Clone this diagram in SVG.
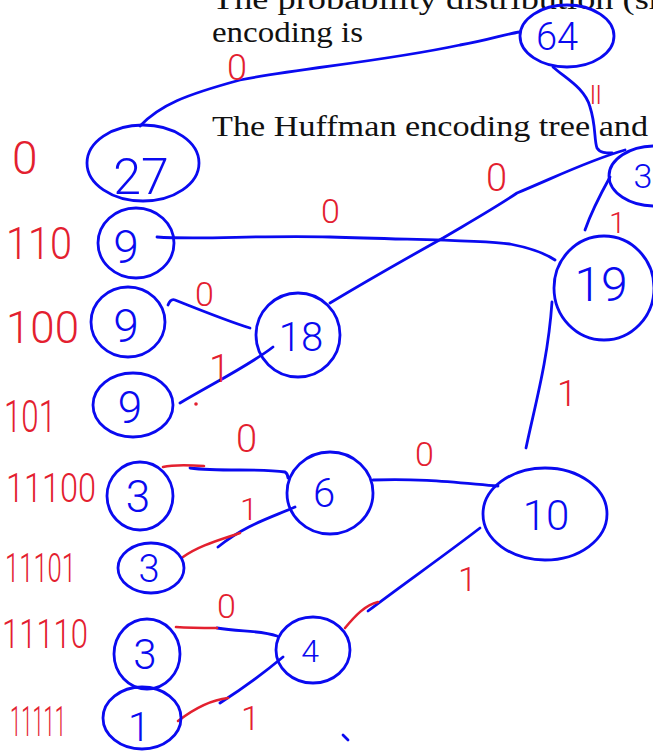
<svg xmlns="http://www.w3.org/2000/svg" width="653" height="754" viewBox="0 0 653 754">
<style>
.bg{font-family:"Liberation Serif","DejaVu Serif",serif;font-size:29px;fill:#111}
.n ellipse{fill:none;stroke:#0a0af0;stroke-width:2.8}
.n text{font-family:Roboto,"DejaVu Sans",sans-serif;font-weight:300;fill:#0a0af0;text-anchor:middle}
.c path{fill:none;stroke:#0a0af0;stroke-width:2.8;stroke-linecap:round;stroke-linejoin:round}
.r path{fill:none;stroke:#e3202f;stroke-width:2.6;stroke-linecap:round}
.code{font-family:Roboto,"DejaVu Sans",sans-serif;font-weight:300;fill:#e3202f}
</style>
<rect width="653" height="754" fill="#fff"/>
<text class="bg" x="212" y="9" textLength="455" lengthAdjust="spacingAndGlyphs">The probability distribution (sh</text>
<text class="bg" x="212" y="42" textLength="151" lengthAdjust="spacingAndGlyphs">encoding is</text>
<text class="bg" x="212" y="136" textLength="436" lengthAdjust="spacingAndGlyphs">The Huffman encoding tree and</text>

<g class="c" id="connectors">
<path d="M140,126 C160,105 185,95 240,80 C300,68 380,62 460,45 C490,40 505,34 520,32"/>
<path d="M553,67 C565,78 585,88 590,107 C596,125 594,140 597,148 C600,153 606,153 612,153"/>
<path d="M157,237 C200,240 260,235 330,237 C420,240 480,240 510,244 C530,248 545,253 555,260"/>
<path d="M330,303 C360,285 400,262 443,238 C470,222 495,208 517,193 C560,175 590,160 625,150"/>
<path d="M585,230 C592,210 600,195 610,177"/>
<path d="M526,448 C535,405 548,360 552,302"/>
<path d="M168,305 C170,300 172,299 175,300 C200,310 230,322 250,328"/>
<path d="M180,403 C210,385 250,365 273,347"/>
<path d="M190,468 C220,472 260,468 285,472 C288,474 288,476 288,478"/>
<path d="M218,547 C245,525 270,518 295,507"/>
<path d="M373,480 C420,478 460,483 498,486"/>
<path d="M217,628 C240,632 260,630 277,636"/>
<path d="M220,703 C245,687 265,672 283,657"/>
<path d="M368,611 C405,583 445,555 480,528"/>
<path d="M343,735 L348,740"/>
</g>

<g class="r" id="red-edges">
<path d="M163,467 C175,464 190,465 204,466"/>
<path d="M183,557 C200,545 220,540 240,533"/>
<path d="M176,627 C190,628 205,628 217,628"/>
<path d="M178,721 C195,708 210,700 228,698"/>
<path d="M345,628 C355,616 365,605 378,602"/>
</g>

<g id="n64" class="n"><ellipse cx="567" cy="36" rx="47" ry="31"/><text x="557" y="50" font-size="38">64</text></g>
<g id="n37" class="n"><ellipse cx="655" cy="176" rx="46" ry="30"/><text x="643" y="188" font-size="34">3</text></g>
<g id="n27" class="n"><ellipse cx="143" cy="163" rx="56" ry="38"/><text x="141" y="194" font-size="50">27</text></g>
<g id="n9a" class="n"><ellipse cx="136" cy="243" rx="38" ry="35"/><text x="126" y="263" font-size="46">9</text></g>
<g id="n9b" class="n"><ellipse cx="128" cy="322" rx="37" ry="35"/><text x="126" y="342" font-size="46">9</text></g>
<g id="n9c" class="n"><ellipse cx="133" cy="405" rx="40" ry="32"/><text x="130" y="423" font-size="44">9</text></g>
<g id="n18" class="n"><ellipse cx="298" cy="335" rx="42" ry="42"/><text x="301" y="351" font-size="40">18</text></g>
<g id="n19" class="n"><ellipse cx="604" cy="288" rx="50" ry="52"/><text x="601" y="301" font-size="48">19</text></g>
<g id="n3a" class="n"><ellipse cx="140" cy="496" rx="33" ry="34"/><text x="138" y="512" font-size="44">3</text></g>
<g id="n3b" class="n"><ellipse cx="151" cy="568" rx="33" ry="25"/><text x="149" y="582" font-size="38">3</text></g>
<g id="n6" class="n"><ellipse cx="330" cy="493" rx="43" ry="41"/><text x="324" y="507" font-size="40">6</text></g>
<g id="n10" class="n"><ellipse cx="545" cy="514" rx="62" ry="46"/><text x="546" y="530" font-size="42">10</text></g>
<g id="n3c" class="n"><ellipse cx="147" cy="654" rx="33" ry="35"/><text x="145" y="669" font-size="42">3</text></g>
<g id="n1" class="n"><ellipse cx="142" cy="718" rx="39" ry="31"/><text x="139" y="741" font-size="40">1</text></g>
<g id="n4" class="n"><ellipse cx="313" cy="650" rx="37" ry="33"/><text x="310" y="662" font-size="32">4</text></g>

<g id="codes">
<text class="code" x="12" y="174" font-size="46">0</text>
<text class="code" x="6" y="259" font-size="44" textLength="66" lengthAdjust="spacingAndGlyphs">110</text>
<text class="code" x="6" y="343" font-size="44" textLength="73" lengthAdjust="spacingAndGlyphs">100</text>
<text class="code" x="4" y="432" font-size="44" textLength="52" lengthAdjust="spacingAndGlyphs">101</text>
<text class="code" x="6" y="502" font-size="40" textLength="90" lengthAdjust="spacingAndGlyphs">11100</text>
<text class="code" x="5" y="582" font-size="40" textLength="71" lengthAdjust="spacingAndGlyphs">11101</text>
<text class="code" x="2" y="648" font-size="40" textLength="86" lengthAdjust="spacingAndGlyphs">11110</text>
<text class="code" x="10" y="736" font-size="42" textLength="56" lengthAdjust="spacingAndGlyphs">11111</text>
</g>

<g id="edge-labels">
<text class="code" x="227" y="80" font-size="36">0</text>
<text class="code" x="590" y="104" font-size="26">ll</text>
<text class="code" x="321" y="223" font-size="34">0</text>
<text class="code" x="486" y="191" font-size="38">0</text>
<text class="code" x="609" y="233" font-size="30">1</text>
<text class="code" x="195" y="306" font-size="34">0</text>
<text class="code" x="209" y="382" font-size="38">1</text>
<circle cx="196" cy="404" r="1.8" fill="#e3202f"/>
<text class="code" x="236" y="452" font-size="38">0</text>
<text class="code" x="415" y="466" font-size="34">0</text>
<text class="code" x="557" y="406" font-size="36">1</text>
<text class="code" x="240" y="520" font-size="32">1</text>
<text class="code" x="217" y="618" font-size="34">0</text>
<text class="code" x="458" y="591" font-size="34">1</text>
<text class="code" x="241" y="730" font-size="34">1</text>
</g>
</svg>
